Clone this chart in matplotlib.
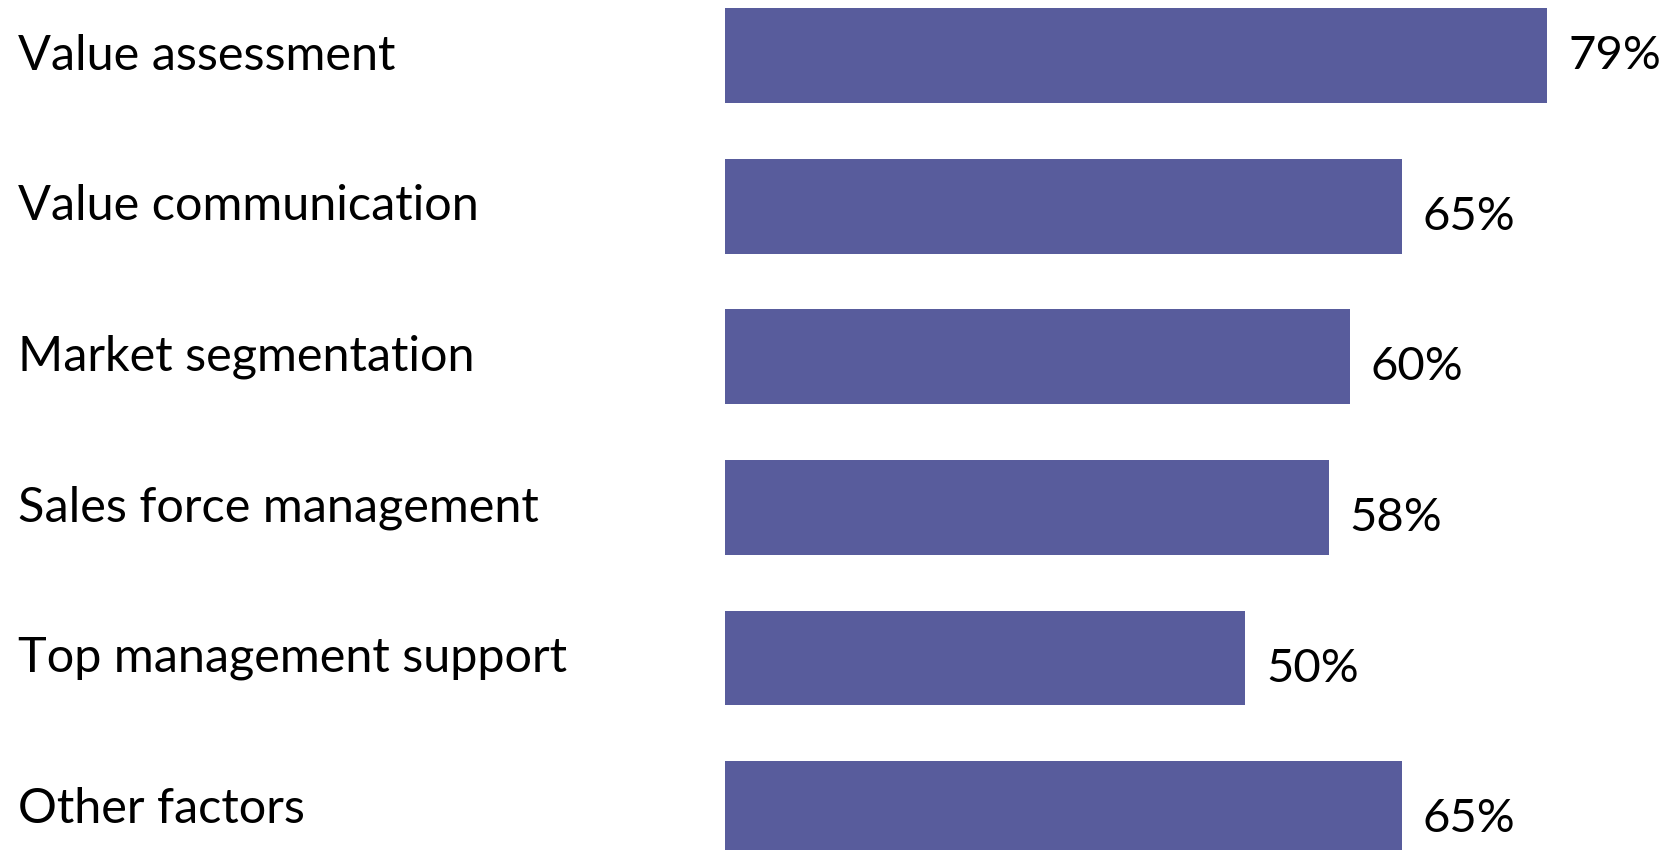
import matplotlib.pyplot as plt
from matplotlib.transforms import blended_transform_factory

factors = ["Value assessment", "Value communication", "Market segmentation",
           "Sales force management", "Top management support", "Other factors"]
shares = [79, 65, 60, 58, 50, 65]

plt.rcParams['font.family'] = ['Lato', 'DejaVu Sans']

fig = plt.figure(figsize=(16.65, 8.5), dpi=100)
ax = fig.add_axes([725 / 1665, 0, 940 / 1665, 1])

ypos = list(range(len(factors)))
ax.barh(ypos, shares, height=0.63, color="#585C9C")
ax.set_xlim(0, 90.3)
ax.set_ylim(5.275, -0.37)
ax.axis("off")

trans = blended_transform_factory(fig.transFigure, ax.transData)
for i, (name, v) in enumerate(zip(factors, shares)):
    ax.text(18 / 1665, i, name, transform=trans, ha="left", va="center",
            fontsize=35, color="black")
    ax.text(v + 2.0, i + (0.0 if i == 0 else 0.07), f"{v}%", ha="left",
            va="center", fontsize=34, color="black")

fig.savefig("out.png", dpi=100)
